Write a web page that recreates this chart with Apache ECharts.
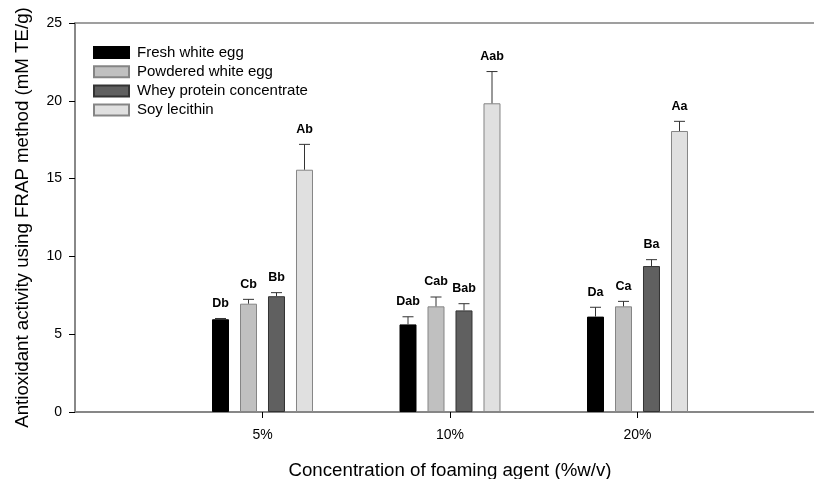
<!DOCTYPE html>
<html>
<head>
<meta charset="utf-8">
<script src="https://cdn.jsdelivr.net/npm/echarts@6/dist/echarts.min.js"></script>
<style>
html,body{margin:0;padding:0;background:#fff;}
#chart{width:814px;height:479px;}
</style>
</head>
<body>
<div id="chart"></div>
<script>
// Categories (padded with empty slots at both ends so the groups sit on interior ticks)
const categories = ['', '5%', '10%', '20%', ''];
const seriesNames = ['Fresh white egg', 'Powdered white egg', 'Whey protein concentrate', 'Soy lecithin'];

// Mean values per group (5%, 10%, 20%)
const freshWhiteEgg    = [5.96, 5.63, 6.13];
const powderedWhiteEgg = [6.96, 6.79, 6.79];
const wheyProtein      = [7.44, 6.53, 9.38];
const soyLecithin      = [15.57, 19.84, 18.06];

// Standard deviations (upper error bars)
const freshErr    = [0.05, 0.49, 0.60];
const powderedErr = [0.28, 0.60, 0.32];
const wheyErr     = [0.23, 0.43, 0.41];
const soyErr      = [1.63, 2.04, 0.62];

// Significance letters
const freshLetters    = ['Db', 'Dab', 'Da'];
const powderedLetters = ['Cb', 'Cab', 'Ca'];
const wheyLetters     = ['Bb', 'Bab', 'Ba'];
const soyLetters      = ['Ab', 'Aab', 'Aa'];

const yTicks = [0, 5, 10, 15, 20, 25];

const values  = [freshWhiteEgg, powderedWhiteEgg, wheyProtein, soyLecithin];
const errs    = [freshErr, powderedErr, wheyErr, soyErr];
const letters = [freshLetters, powderedLetters, wheyLetters, soyLetters];
const fills   = ['#000000', '#c0c0c0', '#606060', '#e0e0e0'];
const borders = ['#000000', '#858585', '#333333', '#858585'];

const BAR_W = 17, BAR_GAP = 11;
const FONT = '"Liberation Sans", Arial, sans-serif';

const series = [];
values.forEach((vals, i) => {
  series.push({
    name: seriesNames[i],
    type: 'bar',
    data: [null].concat(vals).concat([null]),
    barWidth: BAR_W,
    barGap: (BAR_GAP / BAR_W * 100).toFixed(1) + '%',
    itemStyle: { color: fills[i], borderColor: borders[i], borderWidth: 1 },
    emphasis: { disabled: true },
    animation: false
  });
});
values.forEach((vals, i) => {
  const offset = (i - 1.5) * (BAR_W + BAR_GAP);
  series.push({
    name: seriesNames[i] + ' err',
    type: 'custom',
    data: vals.map((v, j) => [j + 1, v, errs[i][j], j]),
    z: 5,
    animation: false,
    renderItem: function (params, api) {
      const x = api.value(0), v = api.value(1), e = api.value(2), j = api.value(3);
      const p0 = api.coord([x, v]);
      const p1 = api.coord([x, v + e]);
      const cx = p0[0] + offset;
      const capW = 11;
      return {
        type: 'group',
        children: [
          { type: 'line', shape: { x1: cx, y1: p0[1], x2: cx, y2: p1[1] }, style: { stroke: '#333', lineWidth: 1 } },
          { type: 'line', shape: { x1: cx - capW / 2, y1: p1[1], x2: cx + capW / 2, y2: p1[1] }, style: { stroke: '#333', lineWidth: 1 } },
          { type: 'text', x: cx, y: p1[1] - 15, style: { text: letters[i][j], align: 'center', verticalAlign: 'middle', font: 'bold 12.5px ' + FONT, fill: '#000' } }
        ]
      };
    }
  });
});

const chart = echarts.init(document.getElementById('chart'), null, { renderer: 'canvas' });
chart.setOption({
  animation: false,
  backgroundColor: '#fff',
  textStyle: { fontFamily: FONT },
  grid: { left: 75, right: -11, top: 23, bottom: 67, outerBoundsMode: 'none', containLabel: false, show: true, borderColor: '#808080', borderWidth: 1.5, backgroundColor: 'transparent' },
  legend: {
    data: seriesNames,
    orient: 'vertical',
    left: 93, top: 45, padding: 0,
    icon: 'rect',
    itemWidth: 35, itemHeight: 11, itemGap: 4.2,
    selectedMode: false,
    textStyle: { fontFamily: FONT, fontSize: 15, color: '#000', lineHeight: 14, padding: [0, 0, 0, 3] }
  },
  xAxis: {
    type: 'category',
    data: categories,
    boundaryGap: false,
    name: 'Concentration of foaming agent (%w/v)',
    nameLocation: 'middle',
    nameGap: 49,
    nameTextStyle: { fontFamily: FONT, fontSize: 18.7, color: '#000' },
    axisLine: { lineStyle: { color: '#808080', width: 1.5 } },
    axisTick: { length: 6, lineStyle: { color: '#000' }, interval: function (idx, val) { return val !== ''; } },
    axisLabel: { fontFamily: FONT, fontSize: 14, color: '#000', margin: 16, interval: 0 },
    splitLine: { show: false }
  },
  yAxis: {
    type: 'value',
    min: yTicks[0], max: yTicks[yTicks.length - 1], interval: yTicks[1] - yTicks[0],
    name: 'Antioxidant activity using FRAP method (mM TE/g)',
    nameLocation: 'middle',
    nameGap: 43,
    nameTextStyle: { fontFamily: FONT, fontSize: 18.7, color: '#000' },
    axisLine: { show: true, lineStyle: { color: '#808080', width: 1.5 } },
    axisTick: { show: true, length: 6, lineStyle: { color: '#000' } },
    axisLabel: { fontFamily: FONT, fontSize: 14, color: '#000', margin: 13 },
    splitLine: { show: false }
  },
  series: series
});
</script>
</body>
</html>
